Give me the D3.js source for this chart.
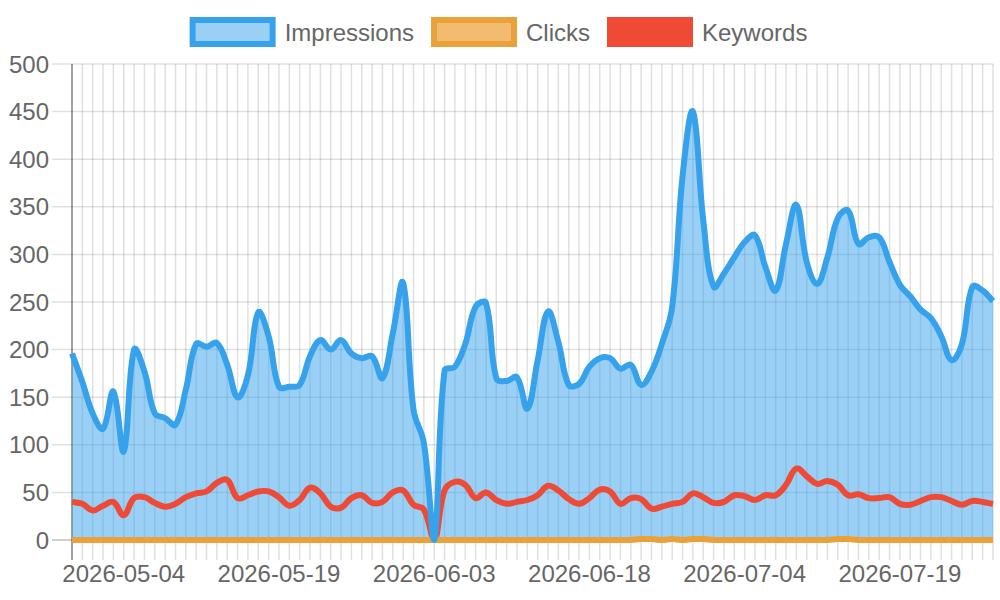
<!DOCTYPE html>
<html>
<head>
<meta charset="utf-8">
<script src="https://cdn.jsdelivr.net/npm/d3@7"></script>
<style>
  body { margin: 0; background: #fff; }
  svg { display: block; font-family: "Liberation Sans", Arial, sans-serif; }
</style>
</head>
<body>
<script>
// one day (06-26) is missing from the export, the axis is a category axis
const dates = [
  "2026-04-29","2026-04-30","2026-05-01","2026-05-02","2026-05-03","2026-05-04","2026-05-05","2026-05-06",
  "2026-05-07","2026-05-08","2026-05-09","2026-05-10","2026-05-11","2026-05-12","2026-05-13","2026-05-14",
  "2026-05-15","2026-05-16","2026-05-17","2026-05-18","2026-05-19","2026-05-20","2026-05-21","2026-05-22",
  "2026-05-23","2026-05-24","2026-05-25","2026-05-26","2026-05-27","2026-05-28","2026-05-29","2026-05-30",
  "2026-05-31","2026-06-01","2026-06-02","2026-06-03","2026-06-04","2026-06-05","2026-06-06","2026-06-07",
  "2026-06-08","2026-06-09","2026-06-10","2026-06-11","2026-06-12","2026-06-13","2026-06-14","2026-06-15",
  "2026-06-16","2026-06-17","2026-06-18","2026-06-19","2026-06-20","2026-06-21","2026-06-22","2026-06-23",
  "2026-06-24","2026-06-25","2026-06-27","2026-06-28","2026-06-29","2026-06-30","2026-07-01","2026-07-02",
  "2026-07-03","2026-07-04","2026-07-05","2026-07-06","2026-07-07","2026-07-08","2026-07-09","2026-07-10",
  "2026-07-11","2026-07-12","2026-07-13","2026-07-14","2026-07-15","2026-07-16","2026-07-17","2026-07-18",
  "2026-07-19","2026-07-20","2026-07-21","2026-07-22","2026-07-23","2026-07-24","2026-07-25","2026-07-26",
  "2026-07-27","2026-07-28"
];

const impressions = [
  196,166,133,117,156, 93,200,177,133,128,
  121,158,206,203,207,184,150,173,239,214,
  161,161,163,193,210,200,210,196,191,193,
  170,217,270,137,102,  0,178,182,206,245,
  249,170,167,171,138,189,240,208,163,164,
  182,191,191,180,184,163,177,206,245,382,
  450,336,266,280,297,313,320,287,262,311,
  352,292,269,297,338,346,311,318,318,292,
  268,256,242,233,214,189,206,266,262,251
];

const clicks = [
  0,0,0,0,0,0,0,0,0,0,
  0,0,0,0,0,0,0,0,0,0,
  0,0,0,0,0,0,0,0,0,0,
  0,0,0,0,0,0,0,0,0,0,
  0,0,0,0,0,0,0,0,0,0,
  0,0,0,0,0,1,1,0,1,0,
  1,1,0,0,0,0,0,0,0,0,
  0,0,0,0,1,1,0,0,0,0,
  0,0,0,0,0,0,0,0,0,0
];

const keywords = [
  40,38,31,36,40,26,44,45,39,35,
  38,45,49,51,60,63,44,47,51,51,
  45,36,42,55,49,35,34,44,47,39,
  40,50,52,37,32, 0,52,61,58,44,
  50,42,38,40,42,47,57,52,43,38,
  44,53,51,38,44,43,33,35,38,40,
  49,45,39,40,47,46,42,47,47,58,
  75,67,59,62,58,47,48,44,44,45,
  38,37,41,45,45,41,37,41,40,38
];

const yTicks = [0, 50, 100, 150, 200, 250, 300, 350, 400, 450, 500];
const xTickLabels = ["2026-05-04","2026-05-19","2026-06-03","2026-06-18","2026-07-04","2026-07-19"];
const seriesNames = ["Impressions", "Clicks", "Keywords"];

const width = 1000, height = 600;
const area = {left: 72, right: 993, top: 64, bottom: 540};
const colors = {
  Impressions: {line: "#36a2eb", fill: "rgba(54,162,235,0.5)"},
  Clicks: {line: "#eba139", fill: "rgba(235,161,57,0.72)"},
  Keywords: {line: "#ee4a35", fill: "#ee4a35"}
};

const svg = d3.select("body").append("svg")
  .attr("width", width)
  .attr("height", height);

const x = d3.scalePoint()
  .domain(dates)
  .range([area.left, area.right]);

const y = d3.scaleLinear()
  .domain([0, 500])
  .range([area.bottom, area.top]);

// grid
const grid = svg.append("g");
grid.selectAll("line.v")
  .data(dates)
  .enter()
  .append("line")
  .attr("x1", d => x(d)).attr("x2", d => x(d))
  .attr("y1", area.top).attr("y2", area.bottom + 20)
  .attr("stroke", "rgba(0,0,0,0.12)")
  .attr("stroke-width", 1.5);

grid.selectAll("line.h")
  .data(yTicks)
  .enter()
  .append("line")
  .attr("x1", area.left - 20).attr("x2", area.right)
  .attr("y1", d => y(d)).attr("y2", d => y(d))
  .attr("stroke", d => d === 0 ? "rgba(0,0,0,0.25)" : "rgba(0,0,0,0.12)")
  .attr("stroke-width", 1.5);

grid.append("line")
  .attr("x1", area.left).attr("x2", area.left)
  .attr("y1", area.top).attr("y2", area.bottom + 20)
  .attr("stroke", "rgba(0,0,0,0.3)")
  .attr("stroke-width", 2);

// tick labels
svg.append("g").selectAll("text")
  .data(yTicks)
  .enter()
  .append("text")
  .attr("x", area.left - 23)
  .attr("y", d => y(d))
  .attr("dy", "0.36em")
  .attr("text-anchor", "end")
  .attr("font-size", 24)
  .attr("fill", "#666")
  .text(d => d);

svg.append("g").selectAll("text")
  .data(xTickLabels)
  .enter()
  .append("text")
  .attr("x", d => x(d))
  .attr("y", 582)
  .attr("text-anchor", "middle")
  .attr("font-size", 24)
  .attr("fill", "#666")
  .text(d => d);

// chart.js style spline (tension 0.4), control points kept inside the area
function splinePath(values) {
  const pts = values.map((v, i) => ({x: x(dates[i]), y: y(v)}));
  const t = 0.4;
  const cap = p => ({
    x: Math.max(area.left, Math.min(area.right, p.x)),
    y: Math.max(area.top, Math.min(area.bottom, p.y))
  });
  const cps = pts.map((cur, i) => {
    const prev = pts[i - 1] || cur;
    const next = pts[i + 1] || cur;
    const d01 = Math.hypot(cur.x - prev.x, cur.y - prev.y);
    const d12 = Math.hypot(next.x - cur.x, next.y - cur.y);
    let s01 = d01 / (d01 + d12), s12 = d12 / (d01 + d12);
    if (isNaN(s01)) s01 = 0;
    if (isNaN(s12)) s12 = 0;
    return {
      prev: cap({x: cur.x - t * s01 * (next.x - prev.x), y: cur.y - t * s01 * (next.y - prev.y)}),
      next: cap({x: cur.x + t * s12 * (next.x - prev.x), y: cur.y + t * s12 * (next.y - prev.y)})
    };
  });
  const path = d3.path();
  path.moveTo(pts[0].x, pts[0].y);
  for (let i = 1; i < pts.length; i++) {
    path.bezierCurveTo(cps[i - 1].next.x, cps[i - 1].next.y, cps[i].prev.x, cps[i].prev.y, pts[i].x, pts[i].y);
  }
  return path.toString();
}

// fills first, then lines (last series at the bottom)
svg.append("path")
  .attr("d", splinePath(impressions) +
    `L${x(dates[dates.length - 1])},${y(0)}L${x(dates[0])},${y(0)}Z`)
  .attr("fill", colors.Impressions.fill);

const lines = [
  {name: "Keywords", values: keywords},
  {name: "Clicks", values: clicks},
  {name: "Impressions", values: impressions}
];

svg.append("g").selectAll("path")
  .data(lines)
  .enter()
  .append("path")
  .attr("d", d => splinePath(d.values))
  .attr("fill", "none")
  .attr("stroke", d => colors[d.name].line)
  .attr("stroke-width", 6)
  .attr("stroke-linejoin", "round");

// legend
const legend = svg.append("g");
const items = legend.selectAll("g")
  .data(seriesNames)
  .enter()
  .append("g");

items.append("text")
  .attr("x", 92)
  .attr("y", 32)
  .attr("dy", "0.36em")
  .attr("font-size", 24)
  .attr("fill", "#666")
  .text(d => d);

const itemWidths = [];
items.each(function() {
  itemWidths.push(92 + d3.select(this).select("text").node().getComputedTextLength());
});
const total = d3.sum(itemWidths) + 20 * (itemWidths.length - 1);
let pos = width / 2 - total / 2;
items.attr("transform", (d, i) => {
  const tx = pos;
  pos += itemWidths[i] + 20;
  return `translate(${tx},0)`;
});

items.insert("rect", "text")
  .attr("x", 0).attr("y", 20)
  .attr("width", 80).attr("height", 24)
  .attr("fill", d => colors[d].fill)
  .attr("stroke", d => colors[d].line)
  .attr("stroke-width", 6);
</script>
</body>
</html>
